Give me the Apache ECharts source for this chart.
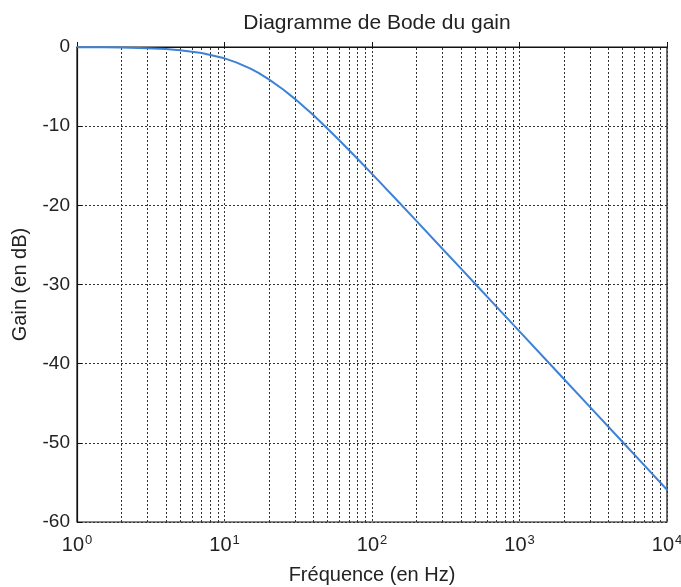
<!DOCTYPE html>
<html>
<head>
<meta charset="utf-8">
<script src="https://cdn.jsdelivr.net/npm/echarts@6/dist/echarts.min.js"></script>
<style>html,body{margin:0;padding:0;background:#fff;}#c{width:681px;height:587px;}</style>
</head>
<body>
<div id="c"></div>
<script>
var freq = [1, 1.5, 2, 3, 4, 5, 7, 10, 12, 15, 17, 20, 25, 30, 40, 50, 60, 70, 80, 100, 150, 200, 300, 400, 500, 700, 1000, 1500, 2000, 3000, 5000, 7000, 10000];
var gain = [-0.02, -0.04, -0.07, -0.15, -0.26, -0.40, -0.76, -1.43, -1.94, -2.74, -3.28, -4.09, -5.37, -6.55, -8.60, -10.32, -11.78, -13.04, -14.15, -16.03, -19.49, -21.97, -25.48, -27.97, -29.90, -32.82, -35.92, -39.44, -41.94, -45.46, -49.90, -52.82, -55.92];
var xTickExps = ['0', '1', '2', '3', '4'];
var minorGrid = [2,3,4,5,6,7,8,9, 20,30,40,50,60,70,80,90, 200,300,400,500,600,700,800,900, 2000,3000,4000,5000,6000,7000,8000,9000];

var FONT = '"Liberation Sans", Arial, sans-serif';
var chart = echarts.init(document.getElementById('c'), null, {renderer: 'canvas'});
var gridStyle = {type: [2, 2], color: '#333', width: 1};
chart.setOption({
  animation: false,
  backgroundColor: '#fff',
  title: {
    text: 'Diagramme de Bode du gain',
    left: 372, top: 8, textAlign: 'center',
    textStyle: {fontFamily: FONT, fontSize: 21, fontWeight: 'normal', color: '#222'}
  },
  grid: {left: 77, right: 14, top: 47, bottom: 65, outerBoundsMode: 'none', containLabel: false, show: true, borderColor: '#111', borderWidth: 1.2, backgroundColor: 'transparent'},
  xAxis: {
    type: 'log', logBase: 10, min: 1, max: 10000,
    name: 'Fréquence (en Hz)', nameLocation: 'middle', nameGap: 43,
    nameTextStyle: {fontFamily: FONT, fontSize: 20, color: '#222'},
    axisLine: {show: true, lineStyle: {color: '#111', width: 1.2}},
    axisTick: {show: true, inside: true, length: 5, lineStyle: {color: '#111'}},
    splitLine: {show: true, lineStyle: gridStyle},
    axisLabel: {
      margin: 12,
      formatter: function (v, i) { return '{b|10}{s|' + xTickExps[i] + '}'; },
      rich: {
        b: {fontFamily: FONT, fontSize: 20, color: '#222', lineHeight: 22},
        s: {fontFamily: FONT, fontSize: 13, color: '#222', lineHeight: 22, verticalAlign: 'top', padding: [0, 0, 10, 1]}
      }
    }
  },
  yAxis: {
    type: 'value', min: -60, max: 0, interval: 10,
    name: 'Gain (en dB)', nameLocation: 'middle', nameGap: 47, nameRotate: 90,
    nameTextStyle: {fontFamily: FONT, fontSize: 20, color: '#222'},
    axisLine: {show: true, lineStyle: {color: '#111', width: 1.2}},
    axisTick: {show: true, inside: true, length: 5, lineStyle: {color: '#111'}},
    splitLine: {show: true, lineStyle: gridStyle},
    axisLabel: {margin: 7, fontFamily: FONT, fontSize: 19, color: '#222'}
  },
  series: [
    {
      type: 'line', data: [], z: 1, silent: true,
      markLine: {
        silent: true, symbol: ['none', 'none'], label: {show: false},
        lineStyle: gridStyle, animation: false,
        data: minorGrid.map(function (f) { return {xAxis: f}; })
      }
    },
    {
      type: 'line', z: 5, showSymbol: false, smooth: false,
      lineStyle: {color: '#3d82d6', width: 2},
      itemStyle: {color: '#3d82d6'},
      data: freq.map(function (f, i) { return [f, gain[i]]; })
    }
  ]
});
</script>
</body>
</html>
